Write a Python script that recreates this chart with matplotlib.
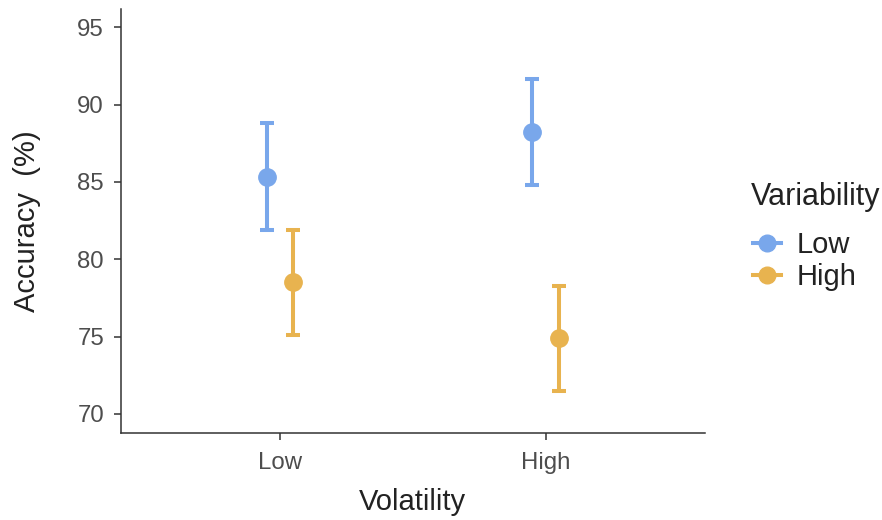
import matplotlib
matplotlib.use("Agg")
import matplotlib.pyplot as plt
from matplotlib.lines import Line2D
import numpy as np

plt.rcParams['font.family'] = ['Liberation Sans', 'DejaVu Sans']

volatility = ["Low", "High"]
variability = ["Low", "High"]
# mean accuracy (%) per volatility, one list per variability level
acc_mean = {"Low": [85.35, 88.2], "High": [78.5, 74.9]}
acc_err = {"Low": [3.43, 3.43], "High": [3.42, 3.4]}
colors = {"Low": "#79A7EB", "High": "#E8B34F"}
dodge = {"Low": -0.05, "High": 0.05}

fig = plt.figure(figsize=(8.82, 5.2), dpi=100)
W, H = 882, 520
ax = fig.add_axes([120.7 / W, (H - 433.3) / H, (705 - 120.7) / W, (433.3 - 9) / H])

x = np.arange(len(volatility))
for v in variability:
    ax.errorbar(x + dodge[v], acc_mean[v], yerr=acc_err[v], fmt='o', color=colors[v],
                ms=12.5, elinewidth=2.9, capsize=4.8, capthick=2.9, zorder=3)

ax.set_xlim(-0.6, 1.6)
ax.set_ylim(68.75, 96.18)
ax.set_xticks(x)
ax.set_xticklabels(volatility)
ax.set_yticks([70, 75, 80, 85, 90, 95])

for sp in ['top', 'right']:
    ax.spines[sp].set_visible(False)
for sp in ['left', 'bottom']:
    ax.spines[sp].set_color('#333333')
    ax.spines[sp].set_linewidth(1.1)
ax.tick_params(colors='#333333', labelcolor='#4D4D4D', labelsize=17.3, length=5, width=1.1)
ax.tick_params(axis='y', pad=7)
ax.tick_params(axis='x', pad=8.5)

ax.set_xlabel("Volatility", fontsize=21, color='#222222', labelpad=10)
ax.set_ylabel("Accuracy  (%)", fontsize=21, color='#222222', labelpad=26)

# legend: title as text, entries through fig.legend
fig.text(751 / W, 1 - 205 / H, "Variability", fontsize=22, color='#222222',
         ha='left', va='baseline')
handles = [Line2D([0], [0], marker='o', color=colors[v], lw=2.9, ms=12) for v in variability]
leg = fig.legend(handles, variability, loc='upper left',
                 bbox_to_anchor=(753 / W, 1 - 231 / H), frameon=False, fontsize=21,
                 handlelength=0.95, handletextpad=0.55, labelspacing=0.14,
                 borderaxespad=0, borderpad=0)
for t in leg.get_texts():
    t.set_color('#222222')

fig.savefig("out.png", dpi=100)
